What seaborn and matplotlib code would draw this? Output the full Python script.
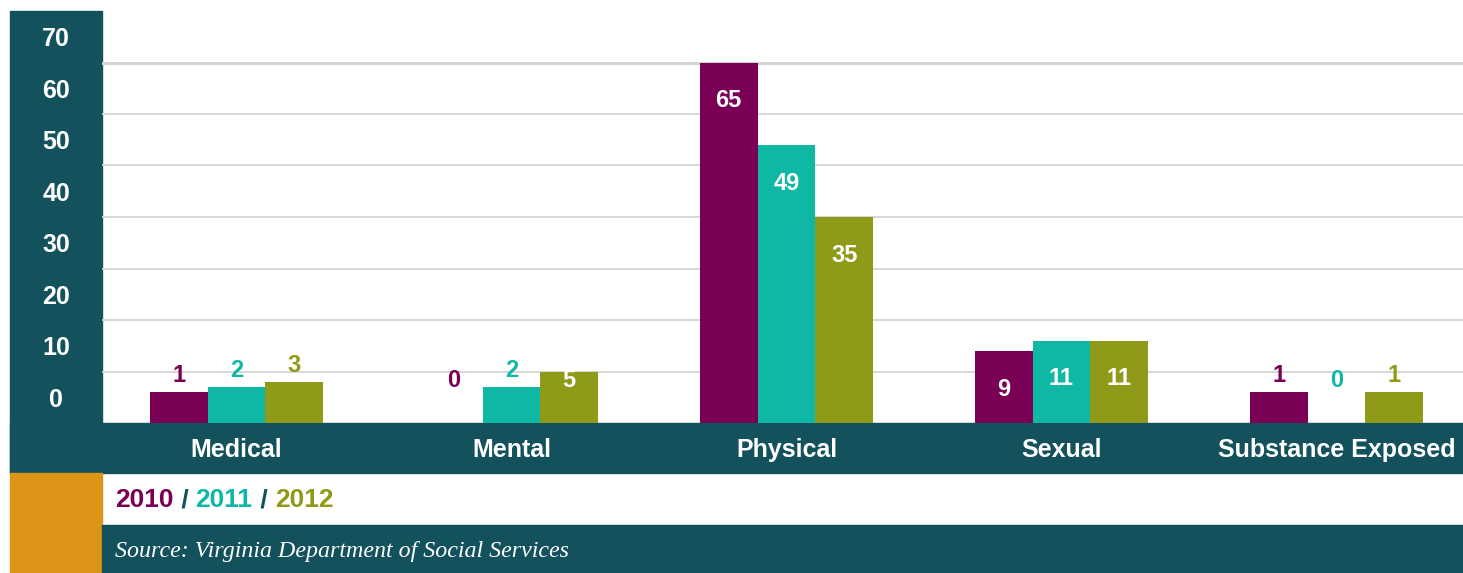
import matplotlib
matplotlib.use("Agg")
import matplotlib.pyplot as plt
import seaborn as sns
import pandas as pd
from matplotlib.patches import Rectangle

categories = ["Medical", "Mental", "Physical", "Sexual", "Substance Exposed"]
years = ["2010", "2011", "2012"]
v2010 = [1, 0, 65, 9, 1]
v2011 = [2, 2, 49, 11, 0]
v2012 = [3, 5, 35, 11, 1]
yticks = [0, 10, 20, 30, 40, 50, 60, 70]

colors = {"2010": "#7a0055", "2011": "#0fb8a5", "2012": "#8f9a18"}
TEAL = "#13525c"
ORANGE = "#db9415"

rows = []
for yr, vals in zip(years, [v2010, v2011, v2012]):
    for c, v in zip(categories, vals):
        rows.append({"category": c, "year": yr, "value": v})
df = pd.DataFrame(rows)

sns.set_theme(style="white")
plt.rcParams["font.family"] = ["Liberation Sans", "DejaVu Sans"]

W, H = 1463, 573
fig = plt.figure(figsize=(W / 100, H / 100), dpi=100)

def fx(px):
    return px / W

def fy(py):
    return 1 - py / H

# background panels
fig.patches.append(Rectangle((fx(10), fy(473)), fx(92), (462) / H, transform=fig.transFigure,
                             color=TEAL, zorder=0))
fig.patches.append(Rectangle((fx(10), fy(473)), fx(1453), 50 / H, transform=fig.transFigure,
                             color=TEAL, zorder=0))
fig.patches.append(Rectangle((fx(10), 0), fx(92), 100 / H, transform=fig.transFigure,
                             color=ORANGE, zorder=0))
fig.patches.append(Rectangle((fx(102), 0), fx(1361), 48 / H, transform=fig.transFigure,
                             color=TEAL, zorder=0))

ax = fig.add_axes([fx(102), fy(423), fx(1361), (423 - 11) / H])
ax.set_facecolor("none")
ax.set_zorder(2)

sns.barplot(data=df, x="category", y="value", hue="year", palette=colors,
            width=0.63, gap=0, saturation=1, ax=ax, legend=False, errorbar=None,
            linewidth=0, zorder=3)

BASE = -5
ax.set_ylim(BASE, 75)
left = -(236.5 - 102) / 275
ax.set_xlim(left, left + 1361 / 275)

# extend bars to the panel baseline
for cont, yr in zip(ax.containers, years):
    for p in cont:
        h = p.get_height()
        if h > 0:
            p.set_y(BASE)
            p.set_height(h - BASE)

# gridlines between labels
for g in range(5, 70, 10):
    ax.axhline(g, color="#d4d4d4", lw=1.3 if g < 65 else 2.2, zorder=1)

# value labels
for cont, yr in zip(ax.containers, years):
    for p, c in zip(cont, categories):
        v = df[(df.year == yr) & (df.category == c)].value.iloc[0]
        xc = p.get_x() + p.get_width() / 2
        if v >= 5:
            yl = v - 7.4 if v - 7.4 > 1 else v - 1.7
            ax.text(xc, yl, str(v), ha="center", va="center", color="white",
                    fontsize=17, fontweight="bold", zorder=5)
        else:
            ax.text(xc, v + 1.0, str(v), ha="center", va="bottom", color=colors[yr],
                    fontsize=17, fontweight="bold", zorder=5)

ax.set_yticks(yticks)
ax.set_yticklabels([str(t) for t in yticks])
ax.tick_params(axis="y", length=0, pad=33, labelsize=18, labelcolor="white")
for lab in ax.get_yticklabels():
    lab.set_fontweight("bold")
    lab.set_ha("center")
ax.tick_params(axis="x", length=0, pad=11, labelsize=18, labelcolor="white")
for lab in ax.get_xticklabels():
    lab.set_fontweight("bold")
ax.set_xlabel("")
ax.set_ylabel("")
for s in ax.spines.values():
    s.set_visible(False)

# legend row
LFS = 19
t1 = fig.text(fx(115), fy(500), "2010", color=colors["2010"], fontsize=LFS,
              fontweight="bold", va="center", ha="left")
t2 = ax.annotate(" / ", xy=(1, 0), xycoords=t1, va="bottom", ha="left", color=TEAL,
                 fontsize=LFS, fontweight="bold", annotation_clip=False)
t3 = ax.annotate("2011", xy=(1, 0), xycoords=t2, va="bottom", ha="left", color=colors["2011"],
                 fontsize=LFS, fontweight="bold", annotation_clip=False)
t4 = ax.annotate(" / ", xy=(1, 0), xycoords=t3, va="bottom", ha="left", color=TEAL,
                 fontsize=LFS, fontweight="bold", annotation_clip=False)
t5 = ax.annotate("2012", xy=(1, 0), xycoords=t4, va="bottom", ha="left", color=colors["2012"],
                 fontsize=LFS, fontweight="bold", annotation_clip=False)

fig.text(fx(115), fy(552), "Source: Virginia Department of Social Services", color="white",
         fontsize=17.3, fontstyle="italic", family=["Liberation Serif", "DejaVu Serif"],
         va="center", ha="left")

fig.savefig("out.png", dpi=100, facecolor="white")
